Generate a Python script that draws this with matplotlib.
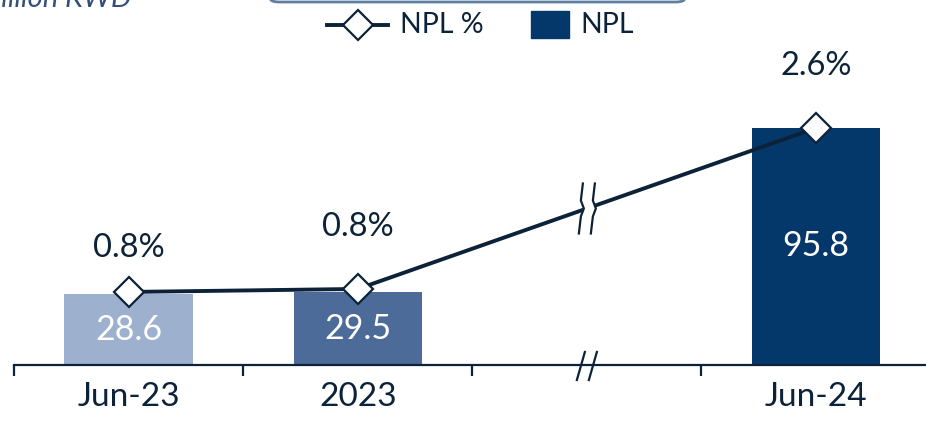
import matplotlib.pyplot as plt
import numpy as np
from matplotlib.patches import Rectangle, FancyBboxPatch
from matplotlib.lines import Line2D

plt.rcParams['font.family'] = ['Lato', 'DejaVu Sans']

categories = ["Jun-23", "2023", "", "Jun-24"]
npl = [28.6, 29.5, None, 95.8]
npl_pct = [0.79, 0.81, None, 2.6]
pct_labels = ["0.8%", "0.8%", None, "2.6%"]
bar_colors = ["#9db0cd", "#4c6b99", None, "#04386a"]

navy = "#0c2238"
W, H = 926, 421

fig = plt.figure(figsize=(W / 100, H / 100), dpi=100)
ax = fig.add_axes([14 / W, 56 / H, 1 - 14 / W, 365 / H])

# bars (skip the empty slot behind the break)
xs = np.arange(len(categories))
for x, v, c in zip(xs, npl, bar_colors):
    if v is None:
        continue
    ax.bar(x, v, width=0.56, color=c, zorder=2)
    ax.text(x, v / 2, f"{v:.1f}", color="white", fontsize=24.5,
            ha="center", va="center", zorder=3)

for s in ["top", "right", "left"]:
    ax.spines[s].set_visible(False)
ax.spines["bottom"].set_color(navy)
ax.spines["bottom"].set_linewidth(1.6)
ax.set_yticks([])
ax.set_xticks(xs)
ax.set_xticklabels(categories, fontsize=24, color=navy)
ax.tick_params(axis="x", length=0, pad=12)
ax.set_xticks(np.arange(-0.5, 3.0, 1.0), minor=True)
ax.tick_params(axis="x", which="minor", length=8, width=1.6, color=navy)
ax.set_xlim(-0.5, 3.48)
ax.set_ylim(0, 365 / 2.474)

# percentage line on a broken secondary scale
B, K = 1.2, 0.488


def fwd(v):
    v = np.asarray(v, dtype=float)
    return np.where(v <= B, v, B + (v - B) * K)


def inv(u):
    u = np.asarray(u, dtype=float)
    return np.where(u <= B, u, B + (u - B) / K)


ax2 = ax.twinx()
ax2.set_yscale("function", functions=(fwd, inv))
ax2.set_ylim(0.303, float(inv((365 + 45.5) / 150)))
ax2.axis("off")

lx = [x for x, v in zip(xs, npl_pct) if v is not None]
ly = [v for v in npl_pct if v is not None]
ax2.plot(lx, ly, color=navy, lw=2.8, marker="D", ms=15, mfc="white",
         mec=navy, mew=1.6, zorder=4)
label_offsets = [44, 62, 62]
for x, v, t, off in zip(lx, ly, [t for t in pct_labels if t], label_offsets):
    ax2.annotate(t, (x, v), xytext=(0, off * 0.72), textcoords="offset points",
                 ha="center", va="center", fontsize=23.5, color=navy)

# break marks on the line, halfway between the last two points
fig.canvas.draw()
p1 = ax2.transData.transform((lx[-2], ly[-2]))
p3 = ax2.transData.transform((lx[-1], ly[-1]))
mid = (p1 + p3) / 2
ys = np.array([25, 8, 0, -8, -25])
dx = np.array([2, 0, 3, 0, -2])
for off in (-6, 6):
    px = mid[0] + off + dx
    py = mid[1] + ys
    pts = fig.transFigure.inverted().transform(np.column_stack([px, py]))
    fig.add_artist(Line2D(pts[:, 0], pts[:, 1], color=navy, lw=1.6, zorder=6))
gap = np.column_stack([np.r_[mid[0] - 6 + dx, (mid[0] + 6 + dx)[::-1]],
                       np.r_[mid[1] + ys, (mid[1] + ys)[::-1]]])
gap = fig.transFigure.inverted().transform(gap)
fig.add_artist(plt.Polygon(gap, closed=True, color="white", zorder=5))

# break marks on the x axis
bx = ax.transData.transform((2.0, 0))
for off in (-6, 6):
    px = np.array([bx[0] + off - 4, bx[0] + off + 4])
    py = np.array([bx[1] - 15, bx[1] + 13])
    pts = fig.transFigure.inverted().transform(np.column_stack([px, py]))
    fig.add_artist(Line2D(pts[:, 0], pts[:, 1], color=navy, lw=1.6, zorder=6))

# legend, laid out by hand in figure pixels
ly0 = 1 - 25 / H
fig.add_artist(Line2D([327 / W, 388 / W], [ly0, ly0], color=navy, lw=2.8))
fig.add_artist(Line2D([357.5 / W], [ly0], marker="D", ms=15, mfc="white",
                      mec=navy, mew=1.6))
fig.text(400 / W, ly0, "NPL %", fontsize=20.5, color=navy, va="center")
fig.add_artist(Rectangle((531 / W, 1 - 38 / H), 38 / W, 27 / H,
                         transform=fig.transFigure, color="#04386a"))
fig.text(580 / W, ly0, "NPL", fontsize=20.5, color=navy, va="center")

# unit caption and header box at the top edge
fig.text(-24 / W, 1 - 7 / H, "Million KWD", fontsize=21, style="italic",
         color="#34507a", va="baseline")
fig.add_artist(FancyBboxPatch((270 / W, 1 - 2 / H), 415 / W, 40 / H,
                              boxstyle="round,pad=0,rounding_size=0.01",
                              transform=fig.transFigure, fc="white",
                              ec="#5f7fa0", lw=2))

fig.savefig("out.png", dpi=100)
